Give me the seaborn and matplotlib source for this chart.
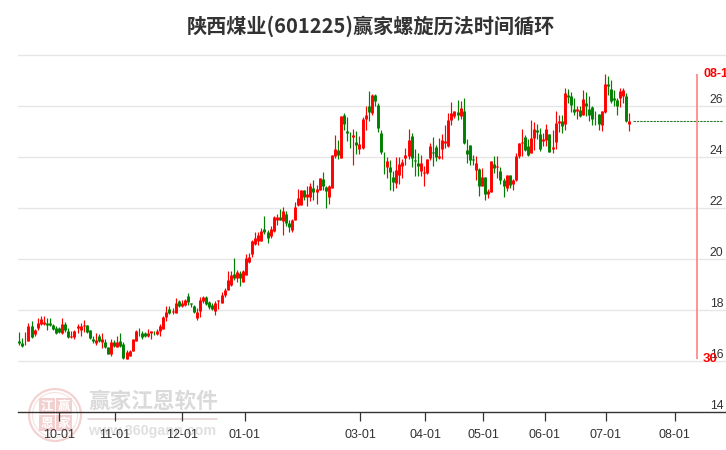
import matplotlib
matplotlib.use("Agg")
import matplotlib.pyplot as plt
from matplotlib.patches import Circle, Rectangle
import numpy as np
import pandas as pd
import seaborn as sns

colors = list(
    "GGRRGRRRRG" "GGGGRGGRRR" "RRGGGRGRGG" "RGRGGRRRRG" "GGRRGRRRRG"
    "RRGRRGGGRR" "RGGGRRRRRR" "GRGRRRRRRR" "GGRRRGRGGR" "RRRGRRGRRG"
    "GRRRGRGGGR" "GRRRGRGGGG" "RGGRRRRRGG" "GRRRRGGRRR" "RRRGRGGGGR"
    "GRGRRGRGGR" "GRRRRGGRRG" "GRRGRRRGRG" "GGRGRGGGGG" "RRGGGGRRGR")
high = [17.15,16.92,17.15,17.49,17.58,17.27,17.69,17.78,17.75,17.69,
 17.70,17.46,17.36,17.33,17.70,17.52,17.28,17.16,17.23,17.46,
 17.49,17.62,17.42,17.23,16.97,17.11,17.06,17.10,16.86,16.56,
 16.85,16.81,16.99,17.08,16.74,16.44,16.43,16.88,17.20,17.31,
 17.16,17.14,17.25,17.19,17.19,17.27,17.46,17.75,18.17,18.17,
 18.09,18.46,18.41,18.41,18.44,18.68,18.28,18.21,18.08,18.50,
 18.56,18.55,18.37,18.27,18.37,18.41,18.71,18.88,19.52,19.52,
 20.05,19.57,19.52,19.56,20.21,20.24,20.76,21.07,21.05,21.22,
 21.70,21.15,21.28,21.67,21.76,21.96,22.04,21.88,21.52,21.57,
 22.25,22.76,22.72,22.72,22.88,22.98,23.11,22.92,23.19,23.42,
 22.88,22.92,24.08,24.88,24.68,25.62,25.73,25.57,24.99,25.11,
 25.01,24.84,25.57,26.01,26.60,26.48,26.47,26.12,25.07,24.21,
 24.00,23.89,23.44,24.00,24.00,23.92,24.35,25.10,24.94,24.31,
 24.16,24.09,23.63,23.93,24.55,24.77,24.48,24.75,24.90,25.27,
 25.73,26.14,25.79,26.22,26.18,26.33,24.71,24.47,24.09,24.05,
 23.57,23.57,23.20,22.76,23.84,24.03,24.05,23.61,23.18,23.31,
 23.31,23.14,24.16,24.55,25.09,24.85,24.71,25.44,25.38,25.30,
 25.13,24.93,25.31,24.92,25.05,25.80,25.66,25.66,26.71,26.68,
 26.54,26.31,26.00,25.99,26.61,26.56,26.38,25.99,25.79,25.70,
 25.79,27.27,27.16,27.03,26.64,26.31,26.71,26.72,26.51,25.72]
body_top = [16.80,16.71,16.80,17.39,17.39,17.22,17.50,17.66,17.53,17.50,
 17.49,17.41,17.31,17.29,17.46,17.46,17.18,16.99,17.18,17.37,
 17.37,17.42,17.42,17.23,16.88,16.82,16.98,16.88,16.75,16.56,
 16.73,16.76,16.75,16.78,16.68,16.35,16.38,16.86,17.18,17.15,
 17.10,17.08,17.10,17.19,17.19,17.18,17.39,17.73,17.93,18.04,
 17.97,18.27,18.35,18.26,18.39,18.56,18.26,18.17,17.91,18.41,
 18.51,18.50,18.30,18.21,18.29,18.38,18.59,18.80,19.18,19.39,
 19.41,19.49,19.45,19.52,20.04,20.07,20.72,20.82,20.95,21.11,
 21.18,21.07,21.18,21.65,21.65,21.65,21.88,21.78,21.41,21.53,
 22.05,22.41,22.72,22.72,22.56,22.88,22.80,22.76,23.19,23.15,
 22.82,22.88,24.08,24.31,24.29,25.62,25.66,25.03,24.72,24.88,
 24.60,24.52,25.50,25.65,26.01,26.44,26.44,26.04,24.94,23.93,
 23.84,23.61,23.22,23.49,23.73,23.82,24.08,24.68,24.84,23.88,
 23.76,23.76,23.41,23.93,24.44,24.21,24.39,24.03,24.68,24.64,
 25.46,25.74,25.79,25.78,25.92,25.82,24.29,24.47,23.92,23.76,
 23.53,23.22,23.20,22.67,23.84,23.74,23.66,23.46,23.11,23.31,
 23.31,23.10,24.05,24.55,24.59,24.78,24.42,24.76,25.09,25.04,
 24.89,24.72,25.10,24.92,24.39,25.33,25.42,25.40,26.52,26.44,
 26.41,25.90,25.88,25.86,26.27,26.12,25.88,25.96,25.50,25.70,
 25.79,26.88,26.88,26.68,26.31,26.25,26.58,26.64,26.41,25.42]
body_bot = [16.69,16.58,16.77,16.80,16.93,17.05,17.28,17.44,17.46,17.42,
 17.42,17.25,17.08,17.12,17.11,17.22,16.93,16.93,16.93,17.28,
 17.23,17.36,17.12,16.89,16.77,16.71,16.80,16.76,16.56,16.29,
 16.27,16.58,16.56,16.58,16.12,16.09,16.21,16.41,16.80,17.12,
 16.93,16.97,16.97,17.08,17.16,17.05,17.16,17.27,17.73,17.88,
 17.91,17.90,18.14,18.17,18.18,18.31,18.22,17.91,17.67,17.95,
 18.35,18.24,18.12,18.05,17.95,18.37,18.29,18.58,18.80,18.99,
 19.25,19.25,19.24,19.08,19.37,19.88,20.21,20.60,20.72,20.72,
 21.05,20.81,20.89,21.08,21.52,21.52,21.48,21.40,21.24,21.12,
 21.52,22.13,22.10,22.44,22.43,22.43,22.61,22.61,22.72,22.88,
 22.68,22.43,22.78,24.03,24.09,23.95,25.31,24.93,24.69,24.77,
 24.46,24.30,24.34,25.49,25.75,25.71,26.21,25.12,24.18,23.91,
 23.62,23.40,23.01,22.99,23.31,23.66,23.96,24.05,23.96,23.83,
 23.66,23.44,23.36,23.36,23.95,24.14,24.00,23.96,24.31,24.55,
 24.42,25.44,25.59,25.63,25.61,24.54,24.13,23.90,23.90,23.48,
 22.88,22.88,22.56,22.56,22.64,23.58,23.59,23.11,22.88,22.80,
 22.90,22.93,23.08,24.05,24.55,24.29,24.07,24.16,24.74,25.00,
 24.33,24.61,24.68,24.18,24.33,24.58,25.33,25.23,25.31,26.35,
 26.04,25.75,25.82,25.62,25.66,25.99,25.66,25.49,25.48,25.31,
 25.27,25.75,26.77,26.18,26.25,26.01,26.31,26.38,25.40,25.29]
low = [16.64,16.56,16.64,16.80,16.90,16.99,17.20,17.41,17.41,17.20,
 17.39,17.20,17.07,17.10,17.07,17.12,16.89,16.91,16.88,17.10,
 16.97,17.15,17.08,16.88,16.69,16.64,16.75,16.52,16.50,16.27,
 16.21,16.55,16.56,16.56,16.09,16.09,16.21,16.41,16.77,16.99,
 16.88,16.93,16.94,16.85,17.02,17.03,16.99,17.25,17.57,17.83,
 17.84,17.87,18.12,18.10,18.14,18.21,18.12,17.88,17.59,17.74,
 18.27,18.21,18.05,18.00,17.82,18.05,18.26,18.50,18.80,18.93,
 19.19,19.10,18.93,19.08,19.37,19.84,20.08,20.56,20.56,20.72,
 20.99,20.64,20.82,21.07,21.35,21.52,20.93,21.28,21.05,21.07,
 21.52,22.07,22.10,22.30,22.07,22.26,22.30,22.17,22.69,22.69,
 22.01,22.14,22.77,23.96,23.92,23.95,25.07,24.64,24.35,23.70,
 24.13,24.13,24.33,25.07,25.40,25.63,26.01,24.97,24.13,23.32,
 23.19,22.72,22.65,22.80,22.95,23.16,23.70,23.92,23.61,23.27,
 23.24,23.27,22.85,23.35,23.90,23.63,23.83,23.93,23.93,24.35,
 24.41,25.24,25.53,25.46,25.50,24.52,23.76,23.70,23.70,23.08,
 22.46,22.85,22.30,22.39,22.63,23.37,23.18,22.95,22.42,22.65,
 22.78,22.72,23.07,23.96,24.05,24.22,24.05,24.16,24.29,24.71,
 24.22,24.42,24.44,24.18,24.16,24.33,25.00,24.94,25.07,26.12,
 25.75,25.66,25.50,25.56,25.63,25.62,25.42,25.27,25.27,25.07,
 25.03,25.73,26.44,26.12,26.01,25.63,25.96,26.12,25.36,25.01]

x_ticks = [13, 31.2, 53.1, 73.6, 111.2, 132.4, 151.3, 171.5, 191.4, 213.9]
x_labels = ["10-01", "11-01", "12-01", "01-01", "03-01", "04-01", "05-01", "06-01", "07-01", "08-01"]
y_ticks = [14, 16, 18, 20, 22, 24, 26, 28]
y_labels = ["14", "16", "18", "20", "22", "24", "26", ""]
last_price = 25.41
future_x = [200.4, 229.7]
cycle_x = 221.3
cycle_span = [16.08, 27.25]
cycle_top_label = "08-11"
cycle_bottom_label = "30"
title = "陕西煤业(601225)赢家螺旋历法时间循环"

sns.set_theme(style="white")
plt.rcParams['font.family'] = ['Liberation Sans', 'Noto Sans CJK SC', 'DejaVu Sans']

W, H = 726, 450
fig = plt.figure(figsize=(W / 100, H / 100), dpi=100, facecolor="white")
ax = fig.add_axes([18 / W, 1 - 412 / H, 708 / W, (412 - 55) / H])
ax.set_facecolor("none")

idx = np.arange(len(colors))
palette = {"R": "#ff0000", "G": "#008000"}
wick_df = pd.DataFrame({"i": np.r_[idx, idx], "p": high + low, "c": colors * 2})
body_df = pd.DataFrame({"i": np.r_[idx, idx], "p": body_top + body_bot, "c": colors * 2})

ax.set_xlim(-0.42, 230.6)
ax.set_ylim(14, 28)
for y in y_ticks[1:]:
    ax.axhline(y, color="#e6e6e6", lw=0.95, zorder=1, clip_on=False)

sns.lineplot(data=wick_df, x="i", y="p", hue="c", units="i", estimator=None, sort=False,
             palette=palette, legend=False, ax=ax, linewidth=0.85, solid_capstyle="butt", zorder=3)
sns.lineplot(data=body_df, x="i", y="p", hue="c", units="i", estimator=None, sort=False,
             palette=palette, legend=False, ax=ax, linewidth=2.1, solid_capstyle="butt", zorder=4)

future = pd.DataFrame({"i": future_x, "p": [last_price, last_price]})
sns.lineplot(data=future, x="i", y="p", color="#2e7d2e", linewidth=0.8, ax=ax, legend=False,
             linestyle=(0, (2.2, 0.8)), estimator=None, sort=False, zorder=3)

cycle = pd.DataFrame({"i": [cycle_x, cycle_x], "p": cycle_span})
sns.lineplot(data=cycle, x="i", y="p", color="#ff8a8a", linewidth=1.3, ax=ax, legend=False,
             estimator=None, sort=False, solid_capstyle="butt", zorder=3)

ax.set_xlabel("")
ax.set_ylabel("")
for s in ["top", "left", "right"]:
    ax.spines[s].set_visible(False)
ax.spines["bottom"].set_color("#333333")
ax.spines["bottom"].set_linewidth(1.0)

ax.set_xticks(x_ticks, x_labels)
ax.tick_params(axis="x", bottom=True, length=6.8, width=0.9, color="#333333", pad=5.6,
               labelsize=9, labelcolor="#333333")
ax.yaxis.tick_right()
ax.set_yticks(y_ticks, y_labels)
ax.tick_params(axis="y", right=False, left=False, length=0, pad=-2, labelsize=8.8, labelcolor="#333333")
for tick in ax.yaxis.get_major_ticks():
    tick.label2.set_ha("right")
    tick.label2.set_va("bottom")

def fx(px):
    return px / W
def fy(py):
    return 1 - py / H

fig.text(fx(371), fy(26), title, ha="center", va="center", fontsize=14.5, fontweight="bold",
         color="#333333", family=['Noto Sans CJK SC', 'DejaVu Sans'])

ax.text(cycle_x + 1.8, cycle_span[1], cycle_top_label, color="#ff0000", fontsize=9, fontweight="bold",
        ha="left", va="center", clip_on=False, zorder=6)
ax.text(cycle_x + 1.8, cycle_span[0], cycle_bottom_label, color="#ff0000", fontsize=9.5, fontweight="bold",
        ha="left", va="center", clip_on=False, zorder=6)

# watermark
ov = fig.add_axes([0, 0, 1, 1], zorder=-1)
ov.set_xlim(0, W)
ov.set_ylim(H, 0)
ov.axis("off")
ov.add_patch(Circle((55, 415), 26, fill=False, ec="#f3d2d2", lw=1.6))
ov.add_patch(Circle((55, 415), 22.5, fill=False, ec="#f6e0e0", lw=0.8))
for (cx, cy, ch) in [(47, 406, "江"), (64, 406, "赢"), (47, 423, "恩"), (64, 423, "家")]:
    ov.add_patch(Rectangle((cx - 8, cy - 8), 16, 16, fc="#f3d0d0", ec="none"))
    ov.text(cx, cy, ch, ha="center", va="center", fontsize=9, color="white", fontweight="bold",
            family=['Noto Sans CJK SC'])
ov.text(88, 401, "赢家江恩软件", ha="left", va="center", fontsize=15.6, color="#dadada", fontweight="bold",
        family=['Noto Sans CJK SC'])
ov.plot([88, 217], [419, 419], color="#e6d2d2", lw=1.2)
ov.text(88, 431, "www.360gann.com", ha="left", va="center", fontsize=10.3, color="#e0e0e0", fontweight="bold",
        family=['Liberation Sans'])

fig.savefig("out.png", dpi=100, facecolor="white")
